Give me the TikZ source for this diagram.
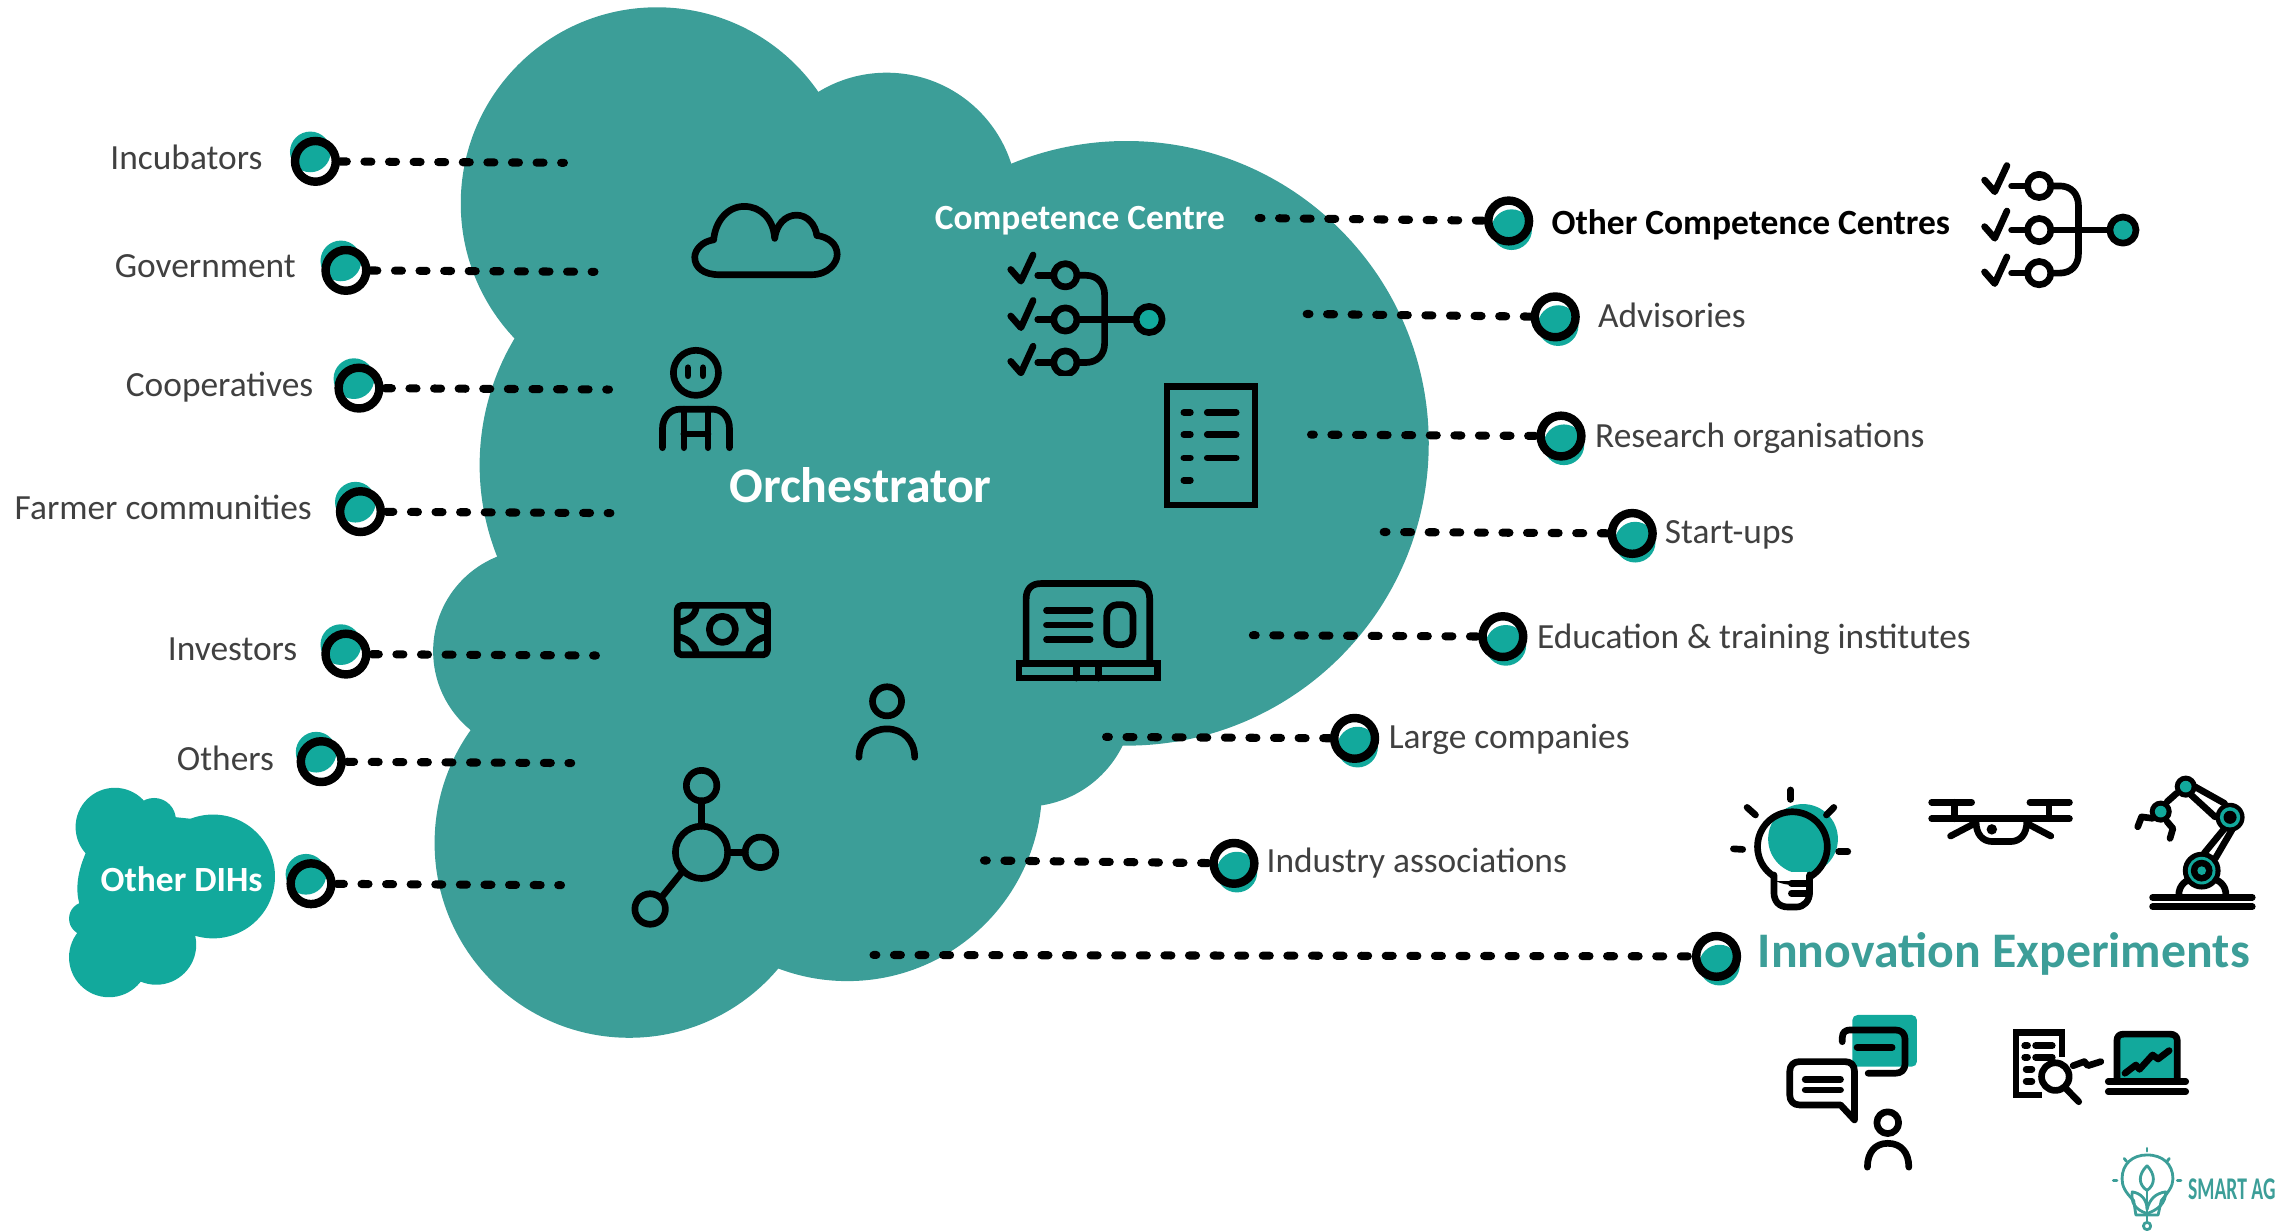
\documentclass[tikz,border=0pt]{standalone}
\usepackage{fontspec}
\setmainfont{Carlito}
\newfontfamily\logofont[FakeStretch=0.62]{Carlito Bold}
\definecolor{cloudteal}{HTML}{3C9E98}
\definecolor{hubteal}{HTML}{12A99C}
\definecolor{labelgrey}{HTML}{404040}
\newcommand{\hubring}[5]{%
  \fill[hubteal] (#2,#3) ++(#4,#5) circle[radius=14];
  \node[ringnode] (#1) at (#2,#3) {};}
\newcommand{\ccicon}{%
  \foreach \yy/\yb/\yc in {189.4/185.4/175.4,219.8/217.4/206.7,249.4/248.6/238.2}{%
    \draw[iconline] (695.4,\yb) -- ++(7,8) -- (710.8,\yc);
    \draw[iconline] (714,\yy) -- (724,\yy);
    \draw[iconline] (733,\yy) circle[radius=8];
  }
  \draw[iconline] (741,189.4) -- (747,189.4) .. controls (755,189.4) and (760,195) .. (760,203) -- (760,236) .. controls (760,244) and (755,249.4) .. (747,249.4) -- (741,249.4);
  \draw[iconline] (741,219.8) -- (781,219.8);
  \draw[iconline,fill=hubteal] (790.6,219.8) circle[radius=9];
}
\tikzset{
  x=0.014534cm, y=-0.014534cm,
  ringnode/.style={circle,draw=black,line width=2.4pt,minimum size=11.6pt,inner sep=0pt},
  dotline/.style={draw=black,line width=2.3pt,line cap=round,dash pattern=on 2pt off 5pt,dash phase=1.2pt},
  iconline/.style={draw=black,line width=1.9pt,line cap=round,line join=round},
  greylabel/.style={text=labelgrey,font=\fontsize{10.07}{12}\selectfont,inner sep=0pt},
  whitehead/.style={text=white,font=\fontsize{10.08}{12}\selectfont\bfseries,inner sep=0pt},
  logoline/.style={draw=cloudteal,line width=0.8pt,line cap=round,line join=round},
}
\begin{document}
\begin{tikzpicture}
\useasboundingbox (0,0) rectangle (1568,846.26);

% main cloud
\fill[cloudteal] (452,140) circle[radius=135];
\fill[cloudteal] (610,140) circle[radius=90];
\fill[cloudteal] (775,305) circle[radius=208];
\fill[cloudteal] (500,320) circle[radius=170];
\fill[cloudteal] (368,448) circle[radius=70];
\fill[cloudteal] (433,580) circle[radius=134];
\fill[cloudteal] (583,541) circle[radius=134];
\fill[cloudteal] (705,480) circle[radius=75];

% other DIHs cloud
\fill[hubteal] (146.6,603) circle[radius=42.6];
\fill[hubteal] (79,569) circle[radius=27];
\fill[hubteal] (106,564) circle[radius=15];
\fill[hubteal] (59,632) circle[radius=11.5];
\fill[hubteal] (75,658.6) circle[radius=27.5];
\fill[hubteal] (107.5,650) circle[radius=27.5];
\fill[hubteal] (59.4,586) .. controls (53,600) and (52,612) .. (54.5,621.5) -- (75,650) -- (107,650) -- (147,640) -- (147,565) -- (100,560) -- cycle;

% cloud icon
\draw[iconline] (495,189) -- (558,189) .. controls (570,189) and (576,181) .. (576,175) .. controls (576,168) and (570,163) .. (562,162) .. controls (561,155) and (556,148) .. (548,148) .. controls (540,148) and (534,155) .. (533,164) .. controls (532,150) and (523,142) .. (512,142) .. controls (500,142) and (492,153) .. (491,165) .. controls (483,166) and (478,172) .. (478,177) .. controls (478,184) and (484,189) .. (495,189) -- cycle;

% farmer icon
\draw[iconline] (478.8,256.5) circle[radius=15.5];
\draw[iconline] (473.3,253) -- (473.3,258.5);
\draw[iconline] (483.7,253) -- (483.7,258.5);
\draw[iconline] (455.8,308) -- (455.8,295) .. controls (455.8,287) and (461,281.5) .. (468,281.5) -- (490,281.5) .. controls (497,281.5) and (501.9,287) .. (501.9,295) -- (501.9,308);
\draw[iconline] (470.5,281.5) -- (470.5,308);
\draw[iconline] (487.1,281.5) -- (487.1,308);
\draw[iconline] (470.5,298.6) -- (487.1,298.6);

% money icon
\draw[iconline,rounded corners=1.2pt] (466,416.5) rectangle (528,450.5);
\draw[iconline] (497,433) circle[radius=9];
\draw[iconline] (479,417) .. controls (479,423) and (474,427) .. (467,428);
\draw[iconline] (515,417) .. controls (515,423) and (520,427) .. (527,428);
\draw[iconline] (479,450) .. controls (479,444) and (474,440) .. (467,438);
\draw[iconline] (515,450) .. controls (515,444) and (520,440) .. (527,438);

% competence centre icons
\begin{scope}
  \clip (680,160) rectangle (810,258);
  \ccicon
\end{scope}
\begin{scope}[shift={(670,-61.5)}]
  \ccicon
\end{scope}

% document icon
\draw[iconline,line join=miter] (803,266) rectangle (863.5,347.5);
\foreach \yy in {283.7,299,315,330.4}{\draw[iconline] (814.5,\yy) -- (819,\yy);}
\foreach \yy in {283.7,299,315}{\draw[iconline] (830.6,\yy) -- (850.5,\yy);}

% laptop icon
\draw[iconline] (706,456) -- (706,412) .. controls (706,405) and (710,401.5) .. (716,401.5) -- (781,401.5) .. controls (787,401.5) and (791,405) .. (791,412) -- (791,456);
\draw[iconline,line join=miter] (701,456.5) rectangle (796.5,466.5);
\draw[iconline] (740.6,456.5) -- (740.6,466.5);
\draw[iconline] (755.9,456.5) -- (755.9,466.5);
\foreach \yy in {420,430,440}{\draw[iconline] (720,\yy) -- (750,\yy);}
\draw[iconline,rounded corners=3pt] (761.5,416) rectangle (779.5,443.5);

% person icon
\draw[iconline] (610.3,482.5) circle[radius=10];
\draw[iconline] (591,521) .. controls (591,509) and (599,501.5) .. (610.3,501.5) .. controls (621,501.5) and (629.3,509) .. (629.3,521);

% network icon
\draw[iconline] (482.7,586.4) circle[radius=18];
\draw[iconline] (482.7,540.5) circle[radius=10.5];
\draw[iconline] (523.2,586.4) circle[radius=10.5];
\draw[iconline] (447.3,625.4) circle[radius=10.5];
\draw[iconline] (482.7,551) -- (482.7,568.4);
\draw[iconline] (500.7,586.4) -- (512.7,586.4);
\draw[iconline] (470,599) -- (455,617.5);

% bulb icon
\fill[hubteal] (1240.5,577.2) circle[radius=24];
\draw[iconline] (1233.2,582.5) circle[radius=24];
\fill[white] (1222,600) rectangle (1243,606);
\draw[iconline] (1220.5,602) -- (1220.5,614) .. controls (1220.5,620) and (1224,624) .. (1230,624) -- (1236,624) .. controls (1241,624) and (1245,620) .. (1245,614) -- (1245,602);
\draw[iconline] (1232.5,607.7) -- (1245,607.7);
\draw[iconline] (1232.5,614.6) -- (1245,614.6);
\draw[iconline] (1232,543.5) -- (1232,550);
\draw[iconline] (1202,555.5) -- (1207.8,560.7);
\draw[iconline] (1261.7,555.5) -- (1256.6,560.7);
\draw[iconline] (1192.6,584) -- (1199,584.4);
\draw[iconline] (1265,586) -- (1271.3,586);

% drone icon
\draw[iconline] (1329,552) -- (1356.5,552);
\draw[iconline] (1396.6,552) -- (1423.8,552);
\draw[iconline] (1329,563.3) -- (1423.8,563.3);
\draw[iconline] (1344.5,552) -- (1344.5,563.3);
\draw[iconline] (1409.8,552) -- (1409.8,563.3);
\draw[iconline] (1359.5,565) .. controls (1359.5,574) and (1364,579) .. (1371,579) -- (1383,579) .. controls (1390,579) and (1394.5,574) .. (1394.5,565);
\fill[black] (1370.4,570.6) circle[radius=3.6];
\draw[iconline] (1356.5,567.6) -- (1342,575.2);
\draw[iconline] (1396.6,567.6) -- (1411,575.2);

% robot icon
\draw[iconline] (1481,617.4) -- (1549.6,617.4);
\draw[iconline] (1481,623.8) -- (1549.6,623.8);
\draw[iconline] (1499,616) .. controls (1499,609) and (1504,605) .. (1510,604);
\draw[iconline] (1520,604) .. controls (1527,605) and (1531.5,609) .. (1531.5,616);
\draw[iconline] (1516.5,587) -- (1530.5,570);
\draw[iconline] (1524.2,590.5) -- (1535.6,571);
\draw[iconline] (1510,541.2) -- (1530.5,552.7);
\draw[iconline] (1507.6,547) -- (1524,562);
\draw[iconline] (1497.5,545.8) -- (1491,551.6);
\draw[iconline] (1481,563) -- (1473.4,562) -- (1470.8,568.8);
\draw[iconline] (1491,565.3) -- (1495,570) -- (1493,576.8);
\fill[black] (1514.8,599) circle[radius=13];
\fill[hubteal] (1514.8,599) circle[radius=9.5];
\fill[black] (1514.8,599) circle[radius=7.5];
\fill[hubteal] (1514.8,599) circle[radius=3];
\fill[black] (1534.3,562.3) circle[radius=10];
\fill[hubteal] (1534.3,562.3) circle[radius=7];
\fill[black] (1534.3,562.3) circle[radius=4.5];
\fill[black] (1503.8,541.2) circle[radius=7.6];
\fill[hubteal] (1503.8,541.2) circle[radius=4];
\fill[black] (1486.6,558.4) circle[radius=7.6];
\fill[hubteal] (1486.6,558.4) circle[radius=4];

% speech icon
\fill[hubteal,rounded corners=1.5pt] (1274.4,698.3) rectangle (1318.9,733.9);
\draw[iconline] (1267.5,716.7) -- (1267.5,714) .. controls (1267.5,710) and (1270,708.6) .. (1273,708.6) -- (1304,708.6) .. controls (1308,708.6) and (1310.7,711) .. (1310.7,715) -- (1310.7,732) .. controls (1310.7,736) and (1308,738.4) .. (1304,738.4) -- (1285.3,738.4);
\draw[iconline] (1277.7,720.6) -- (1301.8,720.6);
\draw[iconline,fill=white] (1266.3,760.2) -- (1238,760.2) .. controls (1234,760.2) and (1231.4,757.5) .. (1231.4,753.5) -- (1231.4,737) .. controls (1231.4,733) and (1234,730.4) .. (1238,730.4) -- (1269.5,730.4) .. controls (1273.5,730.4) and (1275.9,733) .. (1275.9,737) -- (1275.9,770.5) -- cycle;
\draw[iconline] (1242,742.6) -- (1266.3,742.6);
\draw[iconline] (1242,749.9) -- (1266.3,749.9);
\draw[iconline] (1298.8,772.4) circle[radius=7.5];
\draw[iconline] (1284.8,803) .. controls (1284.8,793) and (1290,786.6) .. (1298.8,786.6) .. controls (1308,786.6) and (1313.3,793) .. (1313.3,803);

% report and laptop icon
\draw[iconline,line cap=butt,line join=miter] (1418.7,727) -- (1418.7,710.2) -- (1387,710.2) -- (1387,753.3) -- (1405,753.3);
\draw[iconline] (1393,719.4) -- (1395,719.4);
\draw[iconline] (1393,727.4) -- (1395,727.4);
\draw[iconline] (1394,735.7) -- (1398,735.7);
\draw[iconline] (1394,744) -- (1398,744);
\draw[iconline] (1400.5,719.4) -- (1412,719.4);
\draw[iconline] (1400.5,727.4) -- (1412,727.4);
\draw[iconline] (1414.1,740.7) circle[radius=9.5];
\draw[iconline] (1421.3,748.8) -- (1430.2,758);
\draw[iconline] (1426.3,733.2) -- (1434,730.4) -- (1436.5,733.2) -- (1445.4,730.4);
\draw[iconline,fill=hubteal] (1456.5,744) -- (1456.5,716) .. controls (1456.5,713) and (1458,711.5) .. (1461,711.5) -- (1493,711.5) .. controls (1496,711.5) and (1498,713) .. (1498,716) -- (1498,744);
\draw[iconline] (1450.5,744.2) -- (1503.8,744.2);
\draw[iconline] (1450.5,751.1) -- (1503.8,751.1);
\draw[iconline] (1462,738.4) -- (1469.5,732.7) -- (1472,735.7) -- (1481,725.8) -- (1484.8,728.6) -- (1492.4,722.8);

% logo
\draw[logoline] (1469.5,835.9) -- (1468,826) .. controls (1462,820) and (1460,816) .. (1460,811) .. controls (1460,801) and (1467,794.6) .. (1477.2,794.6) .. controls (1488,794.6) and (1495,801) .. (1495,811) .. controls (1495,816) and (1492,820) .. (1487,826) -- (1484.8,835.9) -- cycle;
\draw[logoline] (1477.2,802) .. controls (1471,808) and (1471,815) .. (1477.2,819) .. controls (1483,815) and (1483,808) .. (1477.2,802);
\draw[logoline] (1477.2,819) -- (1477.2,840);
\draw[logoline] (1477.2,835) .. controls (1469,832) and (1466,828) .. (1467,820) .. controls (1473,821) and (1477,825) .. (1477.2,832);
\draw[logoline] (1477.2,832) .. controls (1479,825) and (1483,821) .. (1490,820) .. controls (1490,828) and (1485,832) .. (1477.2,835);
\draw[logoline] (1477.2,843.5) circle[radius=2.5];
\draw[logoline] (1477.2,790) -- (1477.2,792);
\draw[logoline] (1461.5,797) -- (1463,799);
\draw[logoline] (1492.5,797) -- (1491,799);
\draw[logoline] (1454,812) -- (1456.5,812);
\draw[logoline] (1498,812) -- (1500.5,812);
\node[anchor=west,text=cloudteal,font=\logofont\fontsize{9}{11}\selectfont,inner sep=0pt] (logotext) at (1505,818.5) {SMART AG};

% cloud texts
\node[whitehead] (cc) at (743,152) {Competence Centre};
\node[text=white,font=\fontsize{14.2}{16}\selectfont\bfseries,inner sep=0pt] (orch) at (592,334) {Orchestrator};
\node[whitehead] (odih) at (125,605) {Other DIHs};

% left labels
\node[greylabel,anchor=east] (lb1) at (181,108) {Incubators};
\node[greylabel,anchor=east] (lb2) at (204,183) {Government};
\node[greylabel,anchor=east] (lb3) at (216,266) {Cooperatives};
\node[greylabel,anchor=east] (lb4) at (215,349) {Farmer communities};
\node[greylabel,anchor=east] (lb5) at (205,447) {Investors};
\node[greylabel,anchor=east] (lb6) at (189,522) {Others};

% right labels
\node[anchor=west,inner sep=0pt,text=black,font=\fontsize{10.1}{12}\selectfont\bfseries] (rb1) at (1067,155) {Other Competence Centres};
\node[greylabel,anchor=west] (rb2) at (1099,217) {Advisories};
\node[greylabel,anchor=west] (rb3) at (1097,301.5) {Research organisations};
\node[greylabel,anchor=west] (rb4) at (1145,368) {Start-ups};
\node[greylabel,anchor=west] (rb5) at (1057,440) {Education \& training institutes};
\node[greylabel,anchor=west] (rb6) at (955,509) {Large companies};
\node[greylabel,anchor=west] (rb7) at (871,594) {Industry associations};
\node[anchor=west,inner sep=0pt,text=cloudteal,font=\fontsize{14.17}{16}\selectfont\bfseries] (rb8) at (1209,656.5) {Innovation Experiments};

% rings
\hubring{l1}{217}{111}{-3.5}{-6.5}
\hubring{l2}{238}{186}{-3.5}{-6.5}
\hubring{l3}{247}{267}{-3.5}{-6.5}
\hubring{l4}{248}{352}{-3.5}{-6.5}
\hubring{l5}{238}{450}{-3.5}{-6.5}
\hubring{l6}{221}{524}{-3.5}{-6.5}
\hubring{l7}{214}{608}{-3.5}{-6.5}
\hubring{r1}{1038}{152}{2}{6}
\hubring{r2}{1070}{218}{2}{6}
\hubring{r3}{1074}{300}{2}{6}
\hubring{r4}{1123}{367}{2}{6}
\hubring{r5}{1034}{438}{2}{6}
\hubring{r6}{932}{508}{2}{6}
\hubring{r7}{849}{594}{2}{6}
\hubring{r8}{1181}{658}{2}{6}

% free ends of the connectors
\coordinate (e1) at (388,112);
\coordinate (e2) at (409,187);
\coordinate (e3) at (419,268);
\coordinate (e4) at (420,353);
\coordinate (e5) at (410,451);
\coordinate (e6) at (393,525);
\coordinate (e7) at (386,609);
\coordinate (s1) at (866,150);
\coordinate (s2) at (899,216);
\coordinate (s3) at (902,299);
\coordinate (s4) at (952,366);
\coordinate (s5) at (862,437);
\coordinate (s6) at (761,507);
\coordinate (s7) at (677,592);
\coordinate (s8) at (601,657);

% connectors
\foreach \a/\b in {e1/l1,e2/l2,e3/l3,e4/l4,e5/l5,e6/l6,e7/l7,s1/r1,s2/r2,s3/r3,s4/r4,s5/r5,s6/r6,s7/r7,s8/r8}{
  \draw[dotline] (\a) -- (\b);
}
\end{tikzpicture}
\end{document}
